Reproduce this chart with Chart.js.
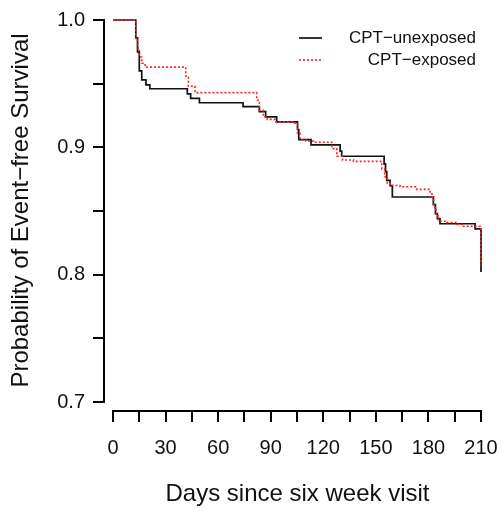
<!DOCTYPE html>
<html>
<head>
<meta charset="utf-8">
<script src="https://cdn.jsdelivr.net/npm/chart.js@4.4.1/dist/chart.umd.min.js"></script>
<style>
  html, body { margin: 0; padding: 0; background: #fff; }
  #wrap { width: 501px; height: 511px; position: relative; }
</style>
</head>
<body>
<div id="wrap"><canvas id="c"></canvas></div>
<script>
// Kaplan-Meier step data
const unexposedDays = [0, 13, 14, 15, 16.4, 18.8, 21, 42.4, 44.3, 49.3, 74.2, 83.5, 87.1, 93.4, 105.3, 106, 113, 129.6, 130.5, 154.7, 155.5, 156.2, 158.1, 159.4, 182.8, 184, 185.1, 186.6, 206.6, 210];
const unexposedSurv = [1, 0.986, 0.975, 0.960, 0.953, 0.949, 0.946, 0.942, 0.9385, 0.935, 0.932, 0.928, 0.924, 0.920, 0.914, 0.906, 0.902, 0.897, 0.893, 0.887, 0.881, 0.874, 0.870, 0.861, 0.855, 0.848, 0.844, 0.840, 0.836, 0.802];

const exposedDays = [0, 13, 14, 15, 16.4, 18.3, 41.5, 43, 46.8, 82, 83.5, 85.8, 88, 93, 103, 105.3, 106.7, 110, 114.3, 124.8, 127.7, 131, 137.2, 153.4, 155, 156.5, 158.1, 163.8, 173.3, 181, 182, 183, 184.3, 185.7, 190.5, 196.2, 200, 210];
const exposedSurv = [1, 0.984, 0.978, 0.971, 0.966, 0.963, 0.956, 0.948, 0.943, 0.937, 0.929, 0.924, 0.922, 0.920, 0.919, 0.911, 0.906, 0.905, 0.904, 0.899, 0.893, 0.890, 0.889, 0.883, 0.877, 0.872, 0.870, 0.869, 0.867, 0.865, 0.861, 0.853, 0.846, 0.842, 0.841, 0.8395, 0.838, 0.808];

const seriesNames = ['CPT\u2212unexposed', 'CPT\u2212exposed'];
const xTickValues = [0, 15, 30, 45, 60, 75, 90, 105, 120, 135, 150, 165, 180, 195, 210];
const yTickValues = [0.7, 0.75, 0.8, 0.85, 0.9, 0.95, 1.0];
const xTitle = 'Days since six week visit';
const yTitle = 'Probability of Event\u2212free Survival';

const FONT = "'Liberation Sans', Arial, Helvetica, sans-serif";

const toPoints = (xs, ys) => xs.map((x, i) => ({ x: x, y: ys[i] }));

// R-style axis lines (span tick range only) + legend drawn with the chart's scales
const rAxes = {
  id: 'rAxes',
  afterDraw(chart) {
    const ctx = chart.ctx;
    const xs = chart.scales.x, ys = chart.scales.y;
    const ca = chart.chartArea;
    ctx.save();
    ctx.strokeStyle = '#000';
    ctx.lineWidth = 2;
    ctx.lineCap = 'butt';
    ctx.beginPath();
    const yl = ca.left;
    ctx.moveTo(yl, ys.getPixelForValue(yTickValues[0]) + 1);
    ctx.lineTo(yl, ys.getPixelForValue(yTickValues[yTickValues.length - 1]) - 1);
    const xb = ca.bottom;
    ctx.moveTo(xs.getPixelForValue(xTickValues[0]) - 1, xb);
    ctx.lineTo(xs.getPixelForValue(xTickValues[xTickValues.length - 1]) + 1, xb);
    ctx.stroke();

    // legend
    const ds = chart.data.datasets;
    const lx1 = 299, lx2 = 322, textRight = 476;
    const rowsY = [38, 60];
    ctx.font = '17px ' + FONT;
    ctx.textAlign = 'right';
    ctx.textBaseline = 'middle';
    ds.forEach((d, i) => {
      ctx.beginPath();
      ctx.strokeStyle = d.borderColor;
      ctx.lineWidth = d.borderWidth;
      ctx.setLineDash(d.borderDash || []);
      ctx.moveTo(lx1, rowsY[i]);
      ctx.lineTo(lx2, rowsY[i]);
      ctx.stroke();
      ctx.setLineDash([]);
      ctx.fillStyle = '#111';
      ctx.fillText(d.label, textRight, rowsY[i]);
    });
    ctx.restore();
  }
};

new Chart(document.getElementById('c'), {
  type: 'line',
  data: {
    datasets: [
      {
        label: seriesNames[0],
        data: toPoints(unexposedDays, unexposedSurv),
        borderColor: '#111111',
        borderWidth: 1.7,
        stepped: true,
        pointRadius: 0,
        fill: false,
        order: 1
      },
      {
        label: seriesNames[1],
        data: toPoints(exposedDays, exposedSurv),
        borderColor: '#ff2020',
        borderWidth: 1.6,
        borderDash: [2, 2],
        stepped: true,
        pointRadius: 0,
        fill: false,
        order: 0
      }
    ]
  },
  options: {
    responsive: true,
    maintainAspectRatio: false,
    animation: false,
    layout: { padding: { top: 10, right: 10, left: 0, bottom: 0 } },
    plugins: { legend: { display: false }, tooltip: { enabled: false } },
    scales: {
      x: {
        type: 'linear',
        min: -5.14,
        max: 215.7,
        afterBuildTicks: (s) => { s.ticks = xTickValues.map(v => ({ value: v })); },
        afterFit: (s) => { s.height = 100; s.paddingLeft = 0; s.paddingRight = 0; },
        border: { display: false },
        grid: { display: true, drawOnChartArea: false, drawTicks: true, tickLength: 11, color: '#000', lineWidth: 2 },
        ticks: {
          autoSkip: false, maxRotation: 0, minRotation: 0, padding: 14,
          color: '#111',
          font: { family: FONT, size: 20 },
          callback: (v) => (v % 30 === 0 ? String(v) : '')
        },
        title: { display: true, text: xTitle, color: '#111', font: { family: FONT, size: 24 }, padding: { top: 0, bottom: 2 } }
      },
      y: {
        type: 'linear',
        min: 0.69293,
        max: 1.00786,
        afterBuildTicks: (s) => { s.ticks = yTickValues.map(v => ({ value: v })); },
        afterFit: (s) => { s.width = 104; s.paddingTop = 0; s.paddingBottom = 0; },
        border: { display: false },
        grid: { display: true, drawOnChartArea: false, drawTicks: true, tickLength: 11, color: '#000', lineWidth: 2 },
        ticks: {
          autoSkip: false, padding: 8,
          color: '#111',
          font: { family: FONT, size: 20 },
          callback: (v) => (Math.abs(v * 10 - Math.round(v * 10)) < 1e-6 ? v.toFixed(1) : '')
        },
        title: { display: true, text: yTitle, color: '#111', font: { family: FONT, size: 24 }, padding: { top: 7, bottom: 0 } }
      }
    }
  },
  plugins: [rAxes]
});
</script>
</body>
</html>
